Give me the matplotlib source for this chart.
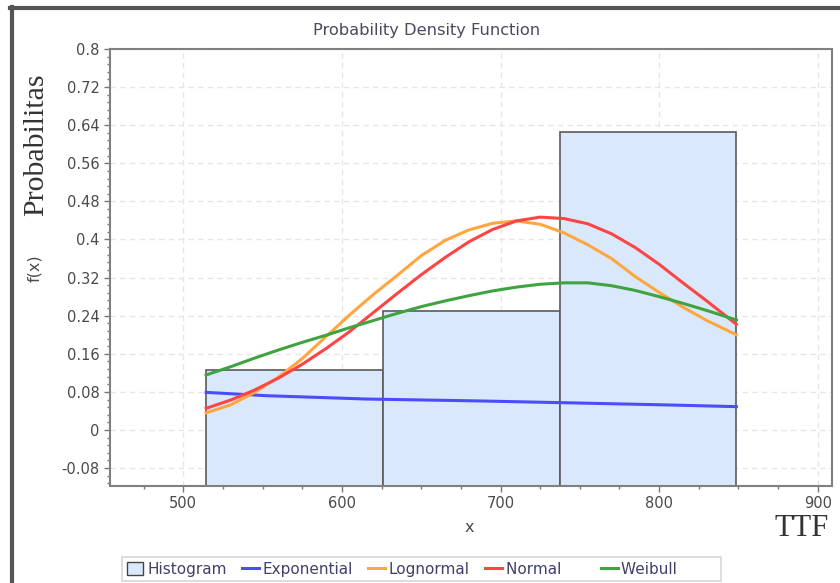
import matplotlib
matplotlib.use('Agg')
import matplotlib.pyplot as plt
from matplotlib.lines import Line2D
from matplotlib.patches import Patch
from matplotlib.ticker import MultipleLocator

# histogram bins (edges) and relative frequencies
bin_edges = [514.3, 625.8, 737.2, 848.7]
bin_heights = [0.125, 0.25, 0.625]

# fitted curves
x_fit = [514.4, 530, 545, 560, 575, 590, 605, 620, 635, 650, 665, 680,
         695, 710, 725, 740, 755, 770, 785, 800, 815, 830, 848.7]
y_normal = [0.0455, 0.063, 0.084, 0.109, 0.138, 0.171, 0.207, 0.247, 0.287, 0.326, 0.362, 0.395,
            0.421, 0.439, 0.447, 0.444, 0.433, 0.412, 0.383, 0.348, 0.309, 0.271, 0.222]
y_lognormal = [0.036, 0.053, 0.079, 0.111, 0.150, 0.196, 0.242, 0.285, 0.325, 0.366, 0.398, 0.420,
               0.434, 0.439, 0.432, 0.414, 0.389, 0.360, 0.322, 0.289, 0.258, 0.230, 0.200]
y_weibull = [0.1155, 0.133, 0.151, 0.168, 0.184, 0.199, 0.215, 0.230, 0.245, 0.259, 0.271, 0.282,
             0.292, 0.300, 0.306, 0.309, 0.309, 0.303, 0.293, 0.280, 0.266, 0.251, 0.231]

x_expon = [514.4, 552.6, 615.6, 687, 743.8, 806.9, 848.7]
y_expon = [0.079, 0.072, 0.065, 0.061, 0.057, 0.0525, 0.049]

ymin, ymax = -0.1176, 0.8
txt = '#4a4a4a'
fig = plt.figure(figsize=(8.4, 5.83), dpi=100)
ax = fig.add_axes([110 / 840, 1 - 486 / 583, 722 / 840, 437 / 583])

# bars run from the bottom of the plot up to their value
widths = [b - a for a, b in zip(bin_edges[:-1], bin_edges[1:])]
ax.bar(bin_edges[:-1], [h - ymin for h in bin_heights], width=widths, align='edge',
       bottom=ymin, color='#d9e9fb', edgecolor='#5a5a5a', linewidth=1.2, zorder=2)

lw = 2.2
ax.plot(x_expon, y_expon, color='#4c4cff', lw=lw, zorder=3)
ax.plot(x_fit, y_lognormal, color='#ffa640', lw=lw, zorder=3)
ax.plot(x_fit, y_normal, color='#ff4444', lw=lw, zorder=3)
ax.plot(x_fit, y_weibull, color='#3fa33f', lw=lw, zorder=3)

ax.set_xlim(453.8, 909)
ax.set_ylim(ymin, ymax)
ax.xaxis.set_major_locator(MultipleLocator(100))
ax.xaxis.set_minor_locator(MultipleLocator(25))
ax.yaxis.set_minor_locator(MultipleLocator(0.016))
ax.set_yticks([-0.08, 0, 0.08, 0.16, 0.24, 0.32, 0.4, 0.48, 0.56, 0.64, 0.72, 0.8])
ax.set_yticklabels(['-0.08', '0', '0.08', '0.16', '0.24', '0.32', '0.4', '0.48',
                    '0.56', '0.64', '0.72', '0.8'])
ax.tick_params(which='major', length=4, width=1, color='#777777', labelcolor=txt, labelsize=10.5)
ax.tick_params(which='minor', length=2.5, width=1, color='#777777')
ax.grid(True, which='major', color='#e6e6e6', linestyle=(0, (4, 3)), linewidth=1, zorder=0)
for s in ax.spines.values():
    s.set_color('#808080')
    s.set_linewidth(1.5)

fig.text(427 / 840, 1 - 31 / 583, 'Probability Density Function', ha='center', va='center',
         fontsize=11.7, color='#4a4a60')
fig.text(469 / 840, 1 - 527 / 583, 'x', ha='center', va='center', fontsize=11.5, color=txt)
fig.text(35 / 840, 1 - 268 / 583, 'f(x)', ha='center', va='center', rotation=90,
         fontsize=11.5, color=txt)
fig.text(36 / 840, 1 - 145 / 583, 'Probabilitas', ha='center', va='center', rotation=90,
         fontsize=21.5, family='Liberation Serif', color='#333333')
fig.text(802 / 840, 1 - 528 / 583, 'TTF', ha='center', va='center',
         fontsize=22, family='Liberation Serif', color='#333333')

# panel border
fig.add_artist(Line2D([11.5 / 840, 11.5 / 840], [0, 1 - 7 / 583], color='#555555', lw=3))
fig.add_artist(Line2D([10 / 840, 1], [1 - 7.5 / 583, 1 - 7.5 / 583], color='#555555', lw=3))

handles = [Patch(facecolor='#d9e9fb', edgecolor='#444444', lw=1),
           Line2D([], [], color='#4c4cff', lw=2.2),
           Line2D([], [], color='#ffa640', lw=2.2),
           Line2D([], [], color='#ff4444', lw=2.2),
           Line2D([], [], color='#3fa33f', lw=2.2)]
labels = ['Histogram', 'Exponential', 'Lognormal', 'Normal     ', 'Weibull        ']
leg = fig.legend(handles, labels, loc='upper left', bbox_to_anchor=(122 / 840, 1 - 557 / 583),
                 ncol=5, fontsize=11, frameon=True, fancybox=False, edgecolor='#cccccc',
                 handlelength=1.1, handleheight=0.9, handletextpad=0.25, columnspacing=1.0,
                 borderpad=0.3, borderaxespad=0)
for t in leg.get_texts():
    t.set_color('#40406a')
leg.get_frame().set_linewidth(1.2)

fig.savefig('out.png', dpi=100)
